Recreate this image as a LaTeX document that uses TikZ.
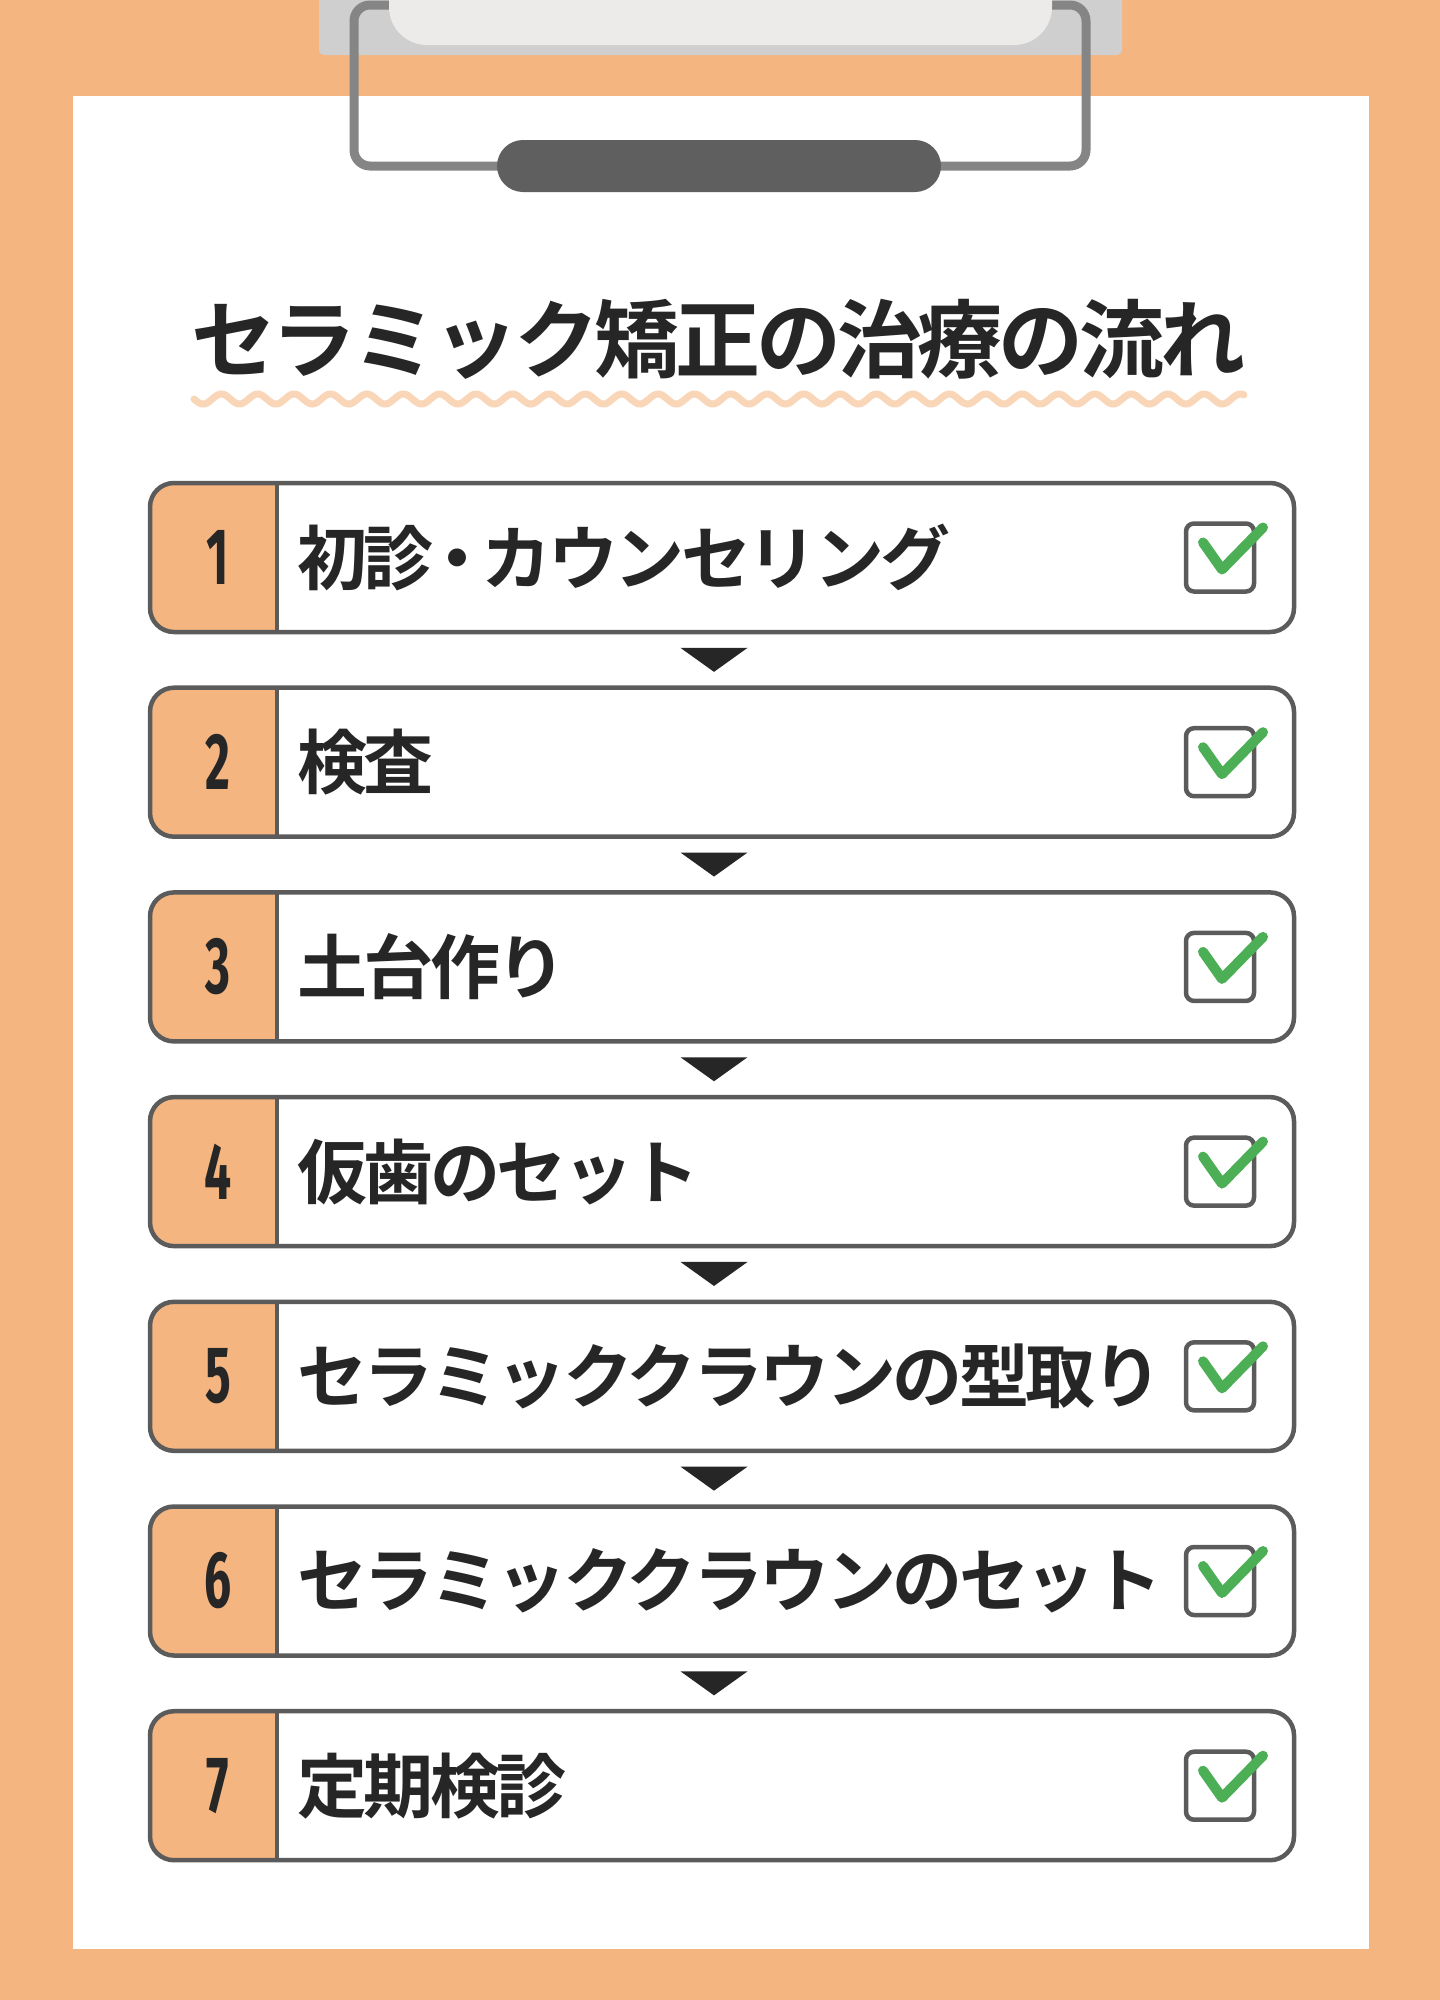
\documentclass[tikz,border=0pt]{standalone}
\usepackage{fontspec}
\usepackage{graphicx}
\usetikzlibrary{calc}
\newfontfamily\jpfont{Noto Sans CJK JP}[UprightFont=* Bold,LetterSpace=-5]
\newfontfamily\numfont{Fira Sans}
\definecolor{bgorange}{HTML}{F5B580}
\definecolor{numorange}{HTML}{F5B580}
\definecolor{plategray}{HTML}{CFCFCF}
\definecolor{lightclip}{HTML}{EDEBEA}
\definecolor{wiregray}{HTML}{858585}
\definecolor{pillgray}{HTML}{5F5F5F}
\definecolor{rowgray}{HTML}{5B5B5B}
\definecolor{ink}{HTML}{262626}
\definecolor{checkgreen}{HTML}{4CAF55}
\definecolor{wavecol}{HTML}{FAD6B9}
\begin{document}
\begin{tikzpicture}[x=1pt,y=-1pt,
  rowfill/.style={rectangle,minimum width=1144pt,minimum height=149pt,inner sep=0pt,outer sep=0pt,fill=white},
  rowborder/.style={draw=rowgray,line width=4.5pt,rounded corners=24pt},
  numtxt/.style={font=\numfont\bfseries\fontsize{80}{80}\selectfont,text=ink,inner sep=0pt},
  steptxt/.style={font=\jpfont\fontsize{70}{75}\selectfont,text=ink,inner sep=0pt},
  chkbox/.style={rectangle,minimum size=68pt,inner sep=0pt,outer sep=0pt,draw=rowgray,line width=4.5pt,rounded corners=8pt,fill=white},
  checkmark/.style={draw=checkgreen,line width=10pt,line cap=round,line join=round},
  titletxt/.style={font=\jpfont\fontsize{85}{90}\selectfont,text=ink,inner sep=0pt}
]
\useasboundingbox (0,0) rectangle (1440,2000);
\fill[bgorange] (0,0) rectangle (1440,2000);
\fill[white] (73,96) rectangle (1369,1949);
% clip
\fill[plategray,rounded corners=5pt] (319,-20) rectangle (1122,55);
\draw[wiregray,line width=9pt,rounded corners=16pt] (354,5) rectangle (1086,166);
\fill[lightclip,rounded corners=38pt] (389,-60) rectangle (1052,45);
\fill[pillgray,rounded corners=26pt] (497,140) rectangle (941,192);
% title
\node[titletxt] (title) at (718,339) {セラミック矯正の治療の流れ};
\draw[wavecol,line width=7pt,line cap=round] plot[domain=194:1244,samples=700] (\x,{399+5*sin((\x-194)*9.89)});
% rows
\foreach \i/\txt in {1/初診\kern-11pt・\kern-11ptカウンセリング,2/検査,3/土台作り,4/仮歯のセット,5/セラミッククラウンの型取り,6/セラミッククラウンのセット,7/定期検診}{
  \pgfmathsetmacro\yc{557.5+204.7*(\i-1)}
  \node[rowfill] (r\i) at (722,\yc) {};
  \begin{scope}
    \clip[rounded corners=24pt] (r\i.north west) rectangle (r\i.south east);
    \fill[numorange] (r\i.north west) rectangle ($(r\i.south west)+(127,0)$);
  \end{scope}
  \draw[rowborder] (r\i.north west) rectangle (r\i.south east);
  \draw[draw=rowgray,line width=4.5pt] ($(r\i.north west)+(127,0)$) -- ($(r\i.south west)+(127,0)$);
  \node[numtxt] (n\i) at ($(r\i.west)+(68,0)$) {\scalebox{0.6}[1]{\i}};
  \node[steptxt,anchor=west] (t\i) at ($(r\i.west)+(147,0)$) {\txt};
  \node[chkbox] (c\i) at (1220,\yc) {};
  \draw[checkmark] ($(c\i.center)+(-17,-15)$) -- ($(c\i.center)+(2,12)$) -- ($(c\i.center)+(43,-30)$);
}
% arrows
\foreach \i in {1,...,6}{
  \pgfmathsetmacro\ym{557.5+204.7*(\i-1)+102.35}
  \coordinate (m\i) at (714,\ym);
  \fill[ink] ($(m\i)+(-33.5,-12)$) -- ($(m\i)+(33.5,-12)$) -- ($(m\i)+(0,12)$) -- cycle;
}
\end{tikzpicture}
\end{document}
